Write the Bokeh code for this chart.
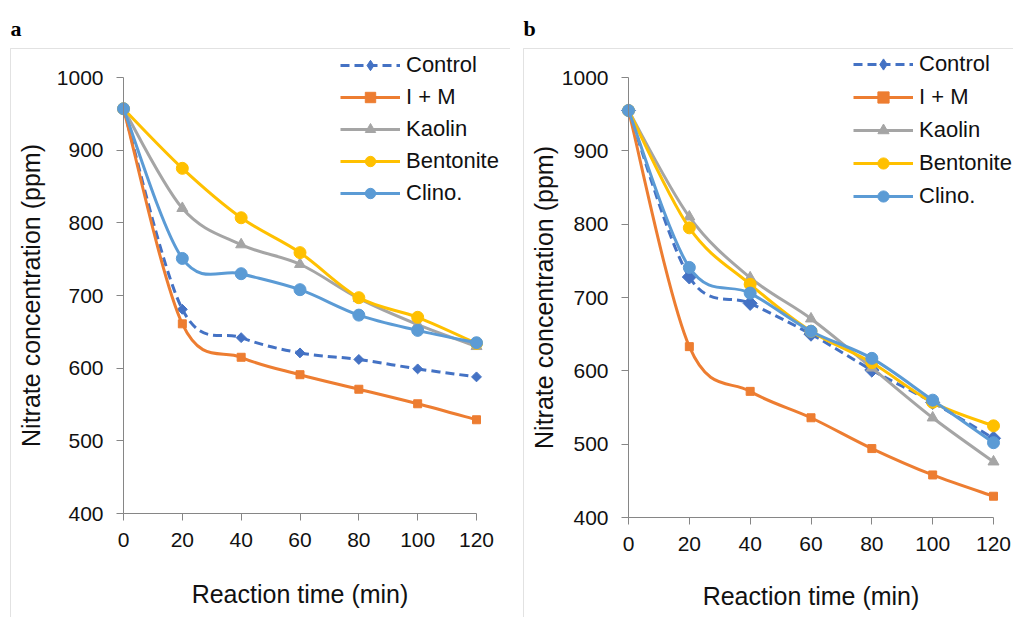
import numpy as np
from bokeh.plotting import figure
from bokeh.models import (FixedTicker, Legend, LegendItem, BoxAnnotation, Label,
                          ColumnDataSource, LinearAxis, Range1d)
from bokeh.layouts import row
from bokeh.embed import file_html
from bokeh.resources import INLINE

# ---------------- data ----------------
times = [0, 20, 40, 60, 80, 100, 120]
series_names = ["Control", "I + M", "Kaolin", "Bentonite", "Clino."]
x_ticks = [0, 20, 40, 60, 80, 100, 120]
y_ticks = [400, 500, 600, 700, 800, 900, 1000]
x_title = "Reaction time (min)"
y_title = "Nitrate concentration (ppm)"

a_control = [957, 681, 642, 621, 612, 599, 588]
a_im = [957, 661, 615, 591, 571, 551, 529]
a_kaolin = [957, 820, 770, 743, 696, 660, 630]
a_bentonite = [957, 875, 807, 759, 697, 670, 634]
a_clino = [957, 751, 730, 708, 673, 652, 635]

b_control = [955, 728, 692, 650, 601, 557, 508]
b_im = [955, 633, 572, 536, 494, 458, 429]
b_kaolin = [955, 810, 727, 671, 604, 536, 476]
b_bentonite = [955, 795, 718, 654, 611, 557, 525]
b_clino = [955, 741, 706, 654, 617, 560, 502]

# ---------------- styles ----------------
COLORS = ["#4472C4", "#ED7D31", "#A5A5A5", "#FFC000", "#5B9BD5"]
MARKERS = ["square", "square", "triangle", "circle", "circle"]
LEGEND_MARKERS = ["diamond", "square", "triangle", "circle", "circle"]
ANGLES = [np.pi / 4, 0, 0, 0, 0]
DASHES = ["9 5", "solid", "solid", "solid", "solid"]
FONT = "Liberation Sans"
TXT = "#111111"
AX = "#868686"
H = 617
XMIN, XMAX, YMIN, YMAX = 0, 120, 400, 1000


def smooth_segments(xs, ys):
    xs = np.asarray(xs, float)
    ys = np.asarray(ys, float)
    n = len(xs)
    out = dict(x0=[], y0=[], x1=[], y1=[], cx0=[], cy0=[], cx1=[], cy1=[])
    for i in range(n - 1):
        i0 = max(i - 1, 0)
        i3 = min(i + 2, n - 1)
        out["x0"].append(xs[i]); out["y0"].append(ys[i])
        out["x1"].append(xs[i + 1]); out["y1"].append(ys[i + 1])
        out["cx0"].append(xs[i] + (xs[i + 1] - xs[i0]) / 6)
        out["cy0"].append(ys[i] + (ys[i + 1] - ys[i0]) / 6)
        out["cx1"].append(xs[i + 1] - (xs[i3] - xs[i]) / 6)
        out["cy1"].append(ys[i + 1] - (ys[i3] - ys[i]) / 6)
    return out


def make_panel(letter, values, width, fx0, fx1, fy0, fy1, sizes,
               ytitle_standoff, xtitle_standoff, leg_left, leg_top, row_h,
               leg_spacing, box_left, letter_x):
    # fx0..fx1 / fy0..fy1: pixel positions (canvas) of the data box 0..120 / 1000..400
    def xd(px):
        return XMIN + (px - fx0) / (fx1 - fx0) * (XMAX - XMIN)

    def yd(py):
        return YMAX - (py - fy0) / (fy1 - fy0) * (YMAX - YMIN)

    p = figure(width=width, height=H,
               x_range=Range1d(xd(0), xd(width)), y_range=Range1d(yd(H), yd(0)),
               output_backend="svg", toolbar_location=None,
               x_axis_location=None, y_axis_location=None,
               min_border=0)
    p.outline_line_color = None
    p.xgrid.visible = False
    p.ygrid.visible = False
    p.background_fill_color = "white"
    p.border_fill_color = "white"

    # panel frame box and letter (decoration)
    p.add_layout(BoxAnnotation(left=xd(box_left), right=xd(width + 40),
                               top=yd(48), bottom=yd(H + 40),
                               fill_alpha=0, line_color="#a0a0a0",
                               line_width=1))
    p.add_layout(Label(x=xd(letter_x), y=yd(28), text=letter,
                       text_font="Liberation Serif", text_font_style="bold",
                       text_font_size="22px", text_color="#000000",
                       text_baseline="alphabetic", text_align="left"))

    # axes placed at the data box edges
    xaxis = LinearAxis(fixed_location=YMIN, bounds=(XMIN, XMAX),
                       ticker=FixedTicker(ticks=x_ticks), axis_label=x_title)
    yaxis = LinearAxis(fixed_location=XMIN, bounds=(YMIN, YMAX),
                       ticker=FixedTicker(ticks=y_ticks), axis_label=y_title)
    for ax in (xaxis, yaxis):
        ax.axis_line_color = AX
        ax.axis_line_width = 1
        ax.major_tick_line_color = AX
        ax.minor_tick_line_color = None
        ax.major_tick_in = 0
        ax.major_tick_out = 7
        ax.major_label_text_font = FONT
        ax.major_label_text_font_size = "21px"
        ax.major_label_text_color = TXT
        ax.axis_label_text_font = FONT
        ax.axis_label_text_font_size = "25px"
        ax.axis_label_text_font_style = "normal"
        ax.axis_label_text_color = TXT
    xaxis.major_label_standoff = 12
    xaxis.axis_label_standoff = xtitle_standoff
    yaxis.major_label_standoff = 13
    yaxis.axis_label_standoff = ytitle_standoff
    p.add_layout(xaxis, "below")
    p.add_layout(yaxis, "left")

    items = []
    for name, ys, col, mk, lmk, ang, dash, sz in zip(
            series_names, values, COLORS, MARKERS, LEGEND_MARKERS, ANGLES,
            DASHES, sizes):
        seg = ColumnDataSource(smooth_segments(times, ys))
        br = p.bezier(x0="x0", y0="y0", x1="x1", y1="y1", cx0="cx0", cy0="cy0",
                      cx1="cx1", cy1="cy1", source=seg, line_color=col,
                      line_width=3, line_dash=dash)
        lr = None
        if lmk != mk:
            # legend marker (the legend does not rotate markers); it sits
            # under the rotated-square markers of the same points
            lr = p.scatter(x=times, y=ys, marker=lmk, size=sz - 1,
                           fill_color=col, line_color=col, line_width=1)
        sr = p.scatter(x=times, y=ys, marker=mk, size=sz, angle=ang,
                       fill_color=col, line_color=col, line_width=1)
        items.append(LegendItem(label=name, renderers=[br, lr if lr is not None else sr]))

    leg_h = 5 * row_h + 4 * leg_spacing
    legend = Legend(items=items,
                    location=(leg_left, H - (leg_top + leg_h)),
                    glyph_width=60, glyph_height=row_h, label_height=row_h,
                    label_standoff=6, spacing=leg_spacing, padding=0, margin=0,
                    border_line_color=None, background_fill_alpha=0,
                    label_text_font=FONT, label_text_font_size="22px",
                    label_text_color=TXT)
    p.add_layout(legend)
    return p


pa = make_panel("a", [a_control, a_im, a_kaolin, a_bentonite, a_clino],
                width=510, fx0=123, fx1=476, fy0=77, fy1=513,
                sizes=[7, 8, 11, 12, 12], ytitle_standoff=9, xtitle_standoff=30,
                leg_left=340, leg_top=52, row_h=26, leg_spacing=6,
                box_left=10, letter_x=10)
pb = make_panel("b", [b_control, b_im, b_kaolin, b_bentonite, b_clino],
                width=503, fx0=118, fx1=483, fy0=77, fy1=517,
                sizes=[10, 8, 11, 12, 12], ytitle_standoff=1, xtitle_standoff=28,
                leg_left=343, leg_top=50, row_h=28, leg_spacing=5,
                box_left=13, letter_x=13)

layout = row(pa, pb)
open("out.html", "w").write(file_html(layout, INLINE))
